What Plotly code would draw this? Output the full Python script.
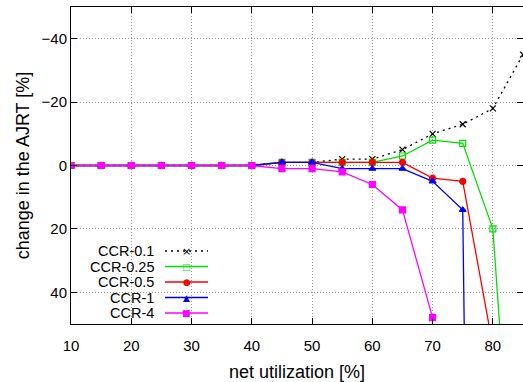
import plotly.graph_objects as go

util = [10, 15, 20, 25, 30, 35, 40, 45, 50, 55, 60, 65, 70, 75, 80, 85]

ccr_01 = [0, 0, 0, 0, 0, 0, 0, -1, -1, -2, -2, -5, -10, -13, -18, -35]
ccr_025 = [0, 0, 0, 0, 0, 0, 0, -1, -1, -1, -1, -3, -8, -7, 20, 155]
ccr_05 = [0, 0, 0, 0, 0, 0, 0, -1, -1, -1, -1, -1, 4, 5, 57]
ccr_1 = [0, 0, 0, 0, 0, 0, 0, -1, -1, 1, 1, 1, 5, 14, 750]
ccr_4 = [0, 0, 0, 0, 0, 0, 0, 1, 1, 2, 6, 14, 48]

x_ticks = [10, 20, 30, 40, 50, 60, 70, 80]
y_ticks = [-40, -20, 0, 20, 40]

series = [
    ("CCR-0.1", ccr_01, "#000000", "x-thin-open", "2px,4px", "×"),
    ("CCR-0.25", ccr_025, "#00e000", "square-open", "solid", "□"),
    ("CCR-0.5", ccr_05, "#ff0000", "circle", "solid", "●"),
    ("CCR-1", ccr_1, "#0000ff", "triangle-up", "solid", "▲"),
    ("CCR-4", ccr_4, "#ff00ff", "square", "solid", "■"),
]

W, H = 523, 382
L, R, T, B = 71, 0, 7, 58
pw, ph = W - L - R, H - T - B

def px(x):
    return (x - L) / pw

def py(y):
    return (H - B - y) / ph

fig = go.Figure()
annotations = []
shapes = []
for i, (name, vals, color, sym, dash, glyph) in enumerate(series):
    fig.add_trace(go.Scatter(
        x=util[:len(vals)], y=vals, name=name, mode="lines+markers",
        line=dict(color=color, width=1.3, dash=dash),
        marker=dict(symbol=sym, size=6, color=color, line=dict(color=color, width=1.2)),
        cliponaxis=True, showlegend=False,
    ))
    row_y = 251 + i * 15.5
    annotations.append(dict(
        x=px(155), y=py(row_y), xref="paper", yref="paper", text=name,
        showarrow=False, xanchor="right", yanchor="middle", borderpad=0,
        font=dict(size=14.5, color="black")))
    shapes.append(dict(
        type="line", xref="paper", yref="paper", x0=px(165), x1=px(208),
        y0=py(row_y), y1=py(row_y),
        line=dict(color=color, width=1.3, dash=dash)))
    annotations.append(dict(
        x=px(186.5), y=py(row_y), xref="paper", yref="paper", text=glyph,
        showarrow=False, xanchor="center", yanchor="middle", borderpad=0,
        font=dict(size=9 if glyph != "×" else 11, color=color, family="DejaVu Sans")))

font = "Liberation Sans, Arial, sans-serif"
grid = dict(showgrid=True, gridcolor="#999999", griddash="1px,2px", gridwidth=1, zeroline=False)
fig.update_layout(
    width=W, height=H,
    margin=dict(l=L, r=R, t=T, b=B, autoexpand=False),
    plot_bgcolor="white", paper_bgcolor="white",
    font=dict(family=font, size=15, color="black"),
    showlegend=False,
    annotations=annotations,
    shapes=shapes,
    xaxis=dict(range=[10, 85], tickmode="array", tickvals=x_ticks,
               ticks="inside", ticklen=6, tickcolor="black", showline=True, linecolor="black",
               linewidth=1, mirror="allticks", automargin=False, ticklabelstandoff=8,
               title=dict(text="net utilization [%]", font=dict(size=18), standoff=15), **grid),
    yaxis=dict(range=[50, -50], tickmode="array", tickvals=y_ticks,
               ticks="inside", ticklen=6, tickcolor="black", showline=True, linecolor="black",
               linewidth=1, mirror="allticks", automargin=False,
               title=dict(text="change in the AJRT [%]", font=dict(size=18), standoff=7), **grid),
)
fig.write_html("out.html", config={"displayModeBar": False},
               post_script="document.body.style.margin='0';document.body.style.padding='0';")
